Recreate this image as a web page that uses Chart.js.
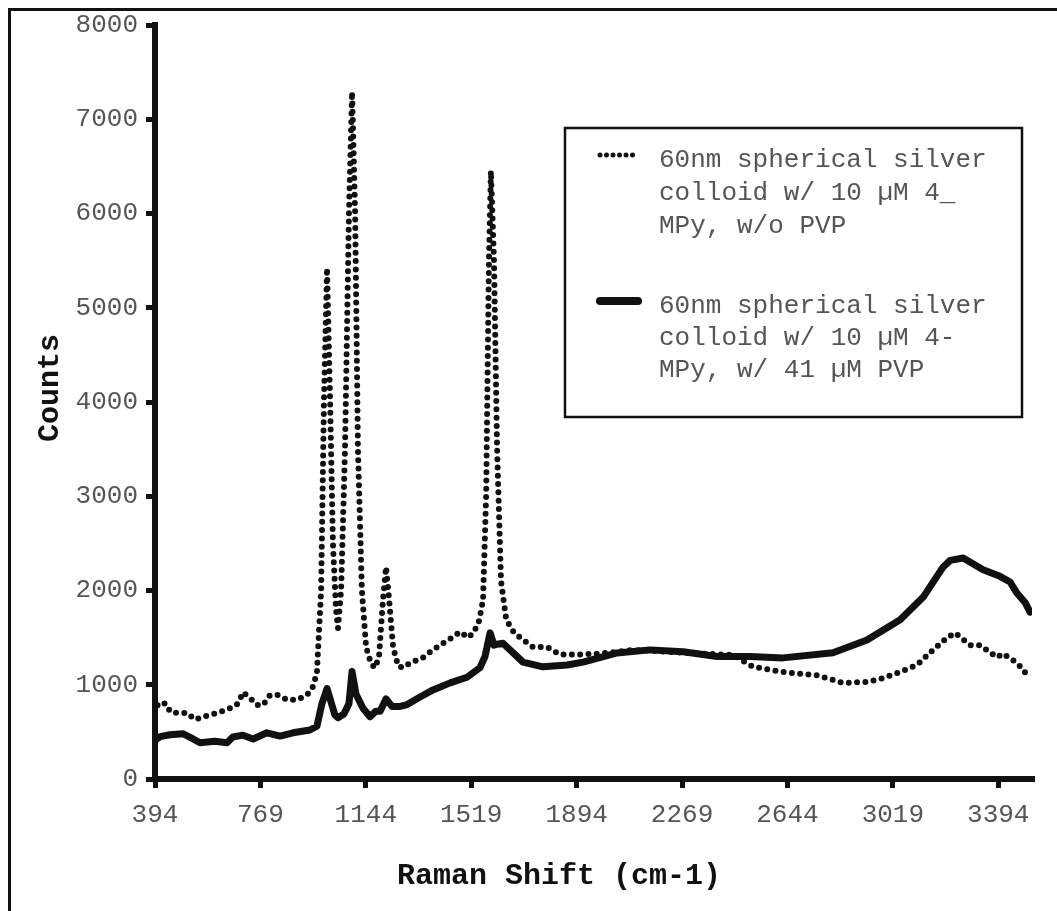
<!DOCTYPE html>
<html>
<head>
<meta charset="utf-8">
<script src="https://cdn.jsdelivr.net/npm/chart.js@4.4.1/dist/chart.umd.min.js"></script>
<style>
  html, body { margin: 0; padding: 0; background: #fff; }
  #wrap { width: 1057px; height: 911px; position: relative; }
</style>
</head>
<body>
<div id="wrap"><canvas id="c" width="1057" height="911"></canvas></div>
<script>
// Axis ticks and titles
const xTickValues = [394, 769, 1144, 1519, 1894, 2269, 2644, 3019, 3394];
const yTickValues = [0, 1000, 2000, 3000, 4000, 5000, 6000, 7000, 8000];
const xTitle = 'Raman Shift (cm-1)';
const yTitle = 'Counts';

// Legend text, one entry per spectrum, already broken into lines
const seriesLabels = [
  ['60nm spherical silver', 'colloid w/ 10 \u00b5M 4_', 'MPy, w/o PVP'],
  ['60nm spherical silver', 'colloid w/ 10 \u00b5M 4-', 'MPy, w/ 41 \u00b5M PVP']
];

// Spectrum without PVP (Raman shift in cm-1, counts)
const shiftNoPVP = [394, 405, 419, 437, 447, 472, 508, 536, 565, 615, 661, 689, 707, 732, 757, 778,
  803, 832, 864, 899, 935, 956, 970, 985, 995, 1006, 1017, 1027, 1038, 1045, 1056, 1070, 1084,
  1095, 1106, 1116, 1130, 1145, 1163, 1177, 1191, 1205, 1216, 1227, 1241, 1259, 1276, 1301, 1348,
  1383, 1419, 1451, 1479, 1508, 1529, 1547, 1561, 1572, 1582, 1589, 1600, 1611, 1625, 1643, 1664,
  1693, 1739, 1789, 1835, 1895, 1977, 2095, 2273, 2450, 2522, 2628, 2749, 2842, 2927, 2984, 3045,
  3105, 3162, 3212, 3240, 3294, 3329, 3390, 3411, 3461, 3482, 3504];
const countsNoPVP = [700, 800, 810, 790, 715, 700, 700, 630, 660, 700, 750, 800, 920, 860, 785, 785,
  890, 890, 840, 840, 890, 980, 1130, 2000, 4000, 5420, 4000, 2500, 1800, 1600, 2000, 3500, 6000,
  7290, 6000, 3500, 2000, 1400, 1220, 1180, 1300, 1900, 2250, 1900, 1400, 1200, 1180, 1230, 1290,
  1370, 1440, 1500, 1560, 1500, 1560, 1680, 1900, 3000, 5500, 6450, 5500, 3500, 2100, 1700, 1580,
  1500, 1400, 1400, 1320, 1320, 1330, 1370, 1340, 1316, 1190, 1135, 1100, 1020, 1030, 1070, 1135,
  1210, 1370, 1500, 1550, 1420, 1420, 1290, 1330, 1230, 1160, 1070];

// Spectrum with 41 uM PVP
const shiftPVP = [394, 412, 447, 494, 526, 554, 607, 650, 671, 707, 743, 792, 839, 885, 945, 970,
  988, 1006, 1020, 1034, 1045, 1066, 1084, 1095, 1109, 1134, 1159, 1180, 1195, 1216, 1237, 1266,
  1291, 1337, 1383, 1444, 1504, 1550, 1568, 1586, 1600, 1611, 1632, 1646, 1675, 1703, 1774, 1860,
  1917, 2038, 2155, 2273, 2394, 2511, 2628, 2806, 2927, 3045, 3127, 3198, 3223, 3269, 3340, 3400,
  3436, 3461, 3490, 3507];
const countsPVP = [410, 450, 470, 480, 430, 385, 400, 385, 445, 465, 425, 490, 455, 490, 520, 560,
  800, 960, 820, 680, 650, 690, 800, 1140, 900, 750, 660, 720, 720, 850, 770, 770,
  790, 870, 945, 1020, 1080, 1180, 1300, 1550, 1420, 1430, 1440, 1400, 1320, 1240, 1190, 1210,
  1240, 1337, 1370, 1350, 1300, 1300, 1285, 1340, 1475, 1690, 1930, 2250, 2320, 2345, 2220, 2150,
  2090, 1970, 1870, 1770];

const toPoints = (xs, ys) => xs.map((x, i) => ({ x: x, y: ys[i] }));

const MONO = '"Courier New", "Liberation Mono", monospace';
const INK = '#111';
const TEXT = '#555';

// Page frame, axis titles and the boxed legend
const decor = {
  id: 'decor',
  beforeDraw(chart) {
    const ctx = chart.ctx;
    ctx.save();
    ctx.fillStyle = '#fff';
    ctx.fillRect(0, 0, chart.width, chart.height);
    ctx.restore();
  },
  afterDraw(chart) {
    const ctx = chart.ctx;
    ctx.save();

    ctx.strokeStyle = INK;
    ctx.lineWidth = 3;
    ctx.strokeRect(9.5, 9.5, 1400, 1400);

    ctx.fillStyle = INK;
    ctx.font = 'bold 30px ' + MONO;
    ctx.textAlign = 'center';
    ctx.textBaseline = 'middle';
    ctx.fillText(xTitle, 559, 876);
    ctx.save();
    ctx.translate(50, 388);
    ctx.rotate(-Math.PI / 2);
    ctx.fillText(yTitle, 0, 0);
    ctx.restore();

    // legend box
    ctx.lineWidth = 2.5;
    ctx.strokeRect(565, 128, 457, 289);

    const entryTop = [155, 301];
    const baselines = [[167, 200, 233], [313, 345, 377]];
    chart.data.datasets.forEach((ds, i) => {
      ctx.save();
      ctx.strokeStyle = ds.borderColor;
      ctx.lineCap = 'round';
      if (ds.borderDash && ds.borderDash.length) {
        ctx.setLineDash([0, 6.5]);
        ctx.lineWidth = 5;
      } else {
        ctx.lineWidth = 8;
      }
      ctx.beginPath();
      ctx.moveTo(600, entryTop[i]);
      ctx.lineTo(638, entryTop[i]);
      ctx.stroke();
      ctx.restore();

      ctx.fillStyle = TEXT;
      ctx.font = '26px ' + MONO;
      ctx.textAlign = 'left';
      ctx.textBaseline = 'alphabetic';
      seriesLabels[i].forEach((line, j) => ctx.fillText(line, 659, baselines[i][j]));
    });
    ctx.restore();
  }
};

new Chart(document.getElementById('c'), {
  type: 'line',
  data: {
    datasets: [
      {
        label: seriesLabels[0].join(' '),
        data: toPoints(shiftNoPVP, countsNoPVP),
        borderColor: INK,
        borderWidth: 6,
        borderDash: [0, 8.3],
        borderCapStyle: 'round',
        borderJoinStyle: 'round',
        pointRadius: 0,
        tension: 0,
        fill: false
      },
      {
        label: seriesLabels[1].join(' '),
        data: toPoints(shiftPVP, countsPVP),
        borderColor: INK,
        borderWidth: 7,
        borderCapStyle: 'round',
        borderJoinStyle: 'round',
        pointRadius: 0,
        tension: 0,
        fill: false
      }
    ]
  },
  options: {
    responsive: false,
    animation: false,
    devicePixelRatio: 1,
    layout: { padding: { top: 25, right: 25, left: 0, bottom: 0 } },
    plugins: { legend: { display: false }, tooltip: { enabled: false } },
    scales: {
      x: {
        type: 'linear',
        min: 394,
        max: 3514,
        afterBuildTicks: (axis) => { axis.ticks = xTickValues.map(v => ({ value: v })); },
        afterFit: (scale) => { scale.height = 132; },
        ticks: {
          color: TEXT,
          font: { family: MONO, size: 26 },
          padding: 12,
          maxRotation: 0,
          autoSkip: false,
          callback: (v) => String(v)
        },
        grid: { drawOnChartArea: false, drawTicks: true, tickLength: 9, lineWidth: 5, color: INK },
        border: { display: true, width: 6, color: INK },
        title: { display: false }
      },
      y: {
        type: 'linear',
        min: 0,
        max: 8000,
        afterBuildTicks: (axis) => { axis.ticks = yTickValues.map(v => ({ value: v })); },
        afterFit: (scale) => { scale.width = 155; },
        ticks: {
          color: TEXT,
          font: { family: MONO, size: 26 },
          padding: 8,
          autoSkip: false,
          callback: (v) => String(v)
        },
        grid: { drawOnChartArea: false, drawTicks: true, tickLength: 9, lineWidth: 5, color: INK },
        border: { display: true, width: 6, color: INK },
        title: { display: false }
      }
    }
  },
  plugins: [decor]
});
</script>
</body>
</html>
